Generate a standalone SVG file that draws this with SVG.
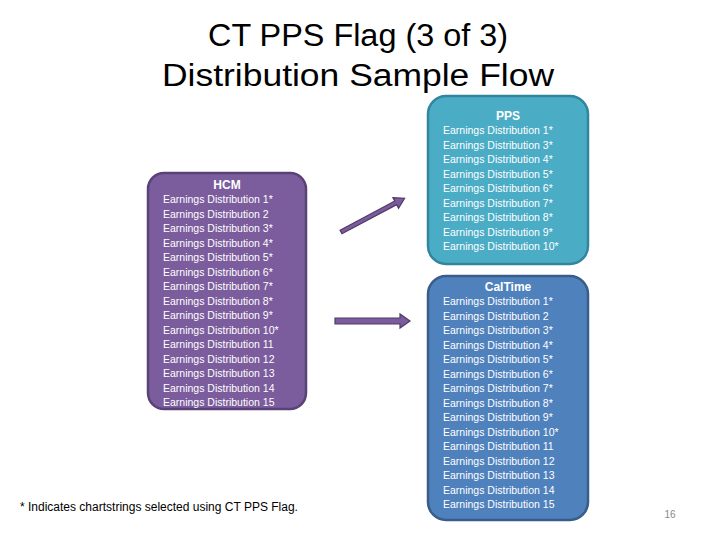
<svg xmlns="http://www.w3.org/2000/svg" width="720" height="540" viewBox="0 0 720 540">
<style>
.t{font-family:"Liberation Sans",Arial,sans-serif;fill:#fff;font-size:10.5px}
.h{font-family:"Liberation Sans",Arial,sans-serif;fill:#fff;font-size:12px;font-weight:bold;text-anchor:middle}
.ti{font-family:"Liberation Sans",Arial,sans-serif;font-size:31px;fill:#000;text-anchor:middle}
.arr{fill:#7b5c9c;stroke:#4f3a6a;stroke-width:1.2}
</style>
<rect width="720" height="540" fill="#fff"/>
<text class="ti" x="358" y="46" textLength="300" lengthAdjust="spacingAndGlyphs">CT PPS Flag (3 of 3)</text>
<text class="ti" x="358" y="86" textLength="392" lengthAdjust="spacingAndGlyphs">Distribution Sample Flow</text>
<g id="hcm">
<rect x="148" y="173" width="158" height="236" rx="16" fill="#7b5c9c" stroke="#5a4278" stroke-width="2.5"/>
<text class="h" x="227" y="189">HCM</text>
<g class="t">
<text x="163" y="203">Earnings Distribution 1*</text>
<text x="163" y="217.5">Earnings Distribution 2</text>
<text x="163" y="232">Earnings Distribution 3*</text>
<text x="163" y="246.5">Earnings Distribution 4*</text>
<text x="163" y="261">Earnings Distribution 5*</text>
<text x="163" y="275.5">Earnings Distribution 6*</text>
<text x="163" y="290">Earnings Distribution 7*</text>
<text x="163" y="304.5">Earnings Distribution 8*</text>
<text x="163" y="319">Earnings Distribution 9*</text>
<text x="163" y="333.5">Earnings Distribution 10*</text>
<text x="163" y="348">Earnings Distribution 11</text>
<text x="163" y="362.5">Earnings Distribution 12</text>
<text x="163" y="377">Earnings Distribution 13</text>
<text x="163" y="391.5">Earnings Distribution 14</text>
<text x="163" y="406">Earnings Distribution 15</text>
</g>
</g>
<g id="pps">
<rect x="428" y="96" width="160" height="168" rx="18" fill="#4bacc6" stroke="#31859c" stroke-width="2.5"/>
<text class="h" x="508" y="120">PPS</text>
<g class="t">
<text x="443" y="134">Earnings Distribution 1*</text>
<text x="443" y="148.5">Earnings Distribution 3*</text>
<text x="443" y="163">Earnings Distribution 4*</text>
<text x="443" y="177.5">Earnings Distribution 5*</text>
<text x="443" y="192">Earnings Distribution 6*</text>
<text x="443" y="206.5">Earnings Distribution 7*</text>
<text x="443" y="221">Earnings Distribution 8*</text>
<text x="443" y="235.5">Earnings Distribution 9*</text>
<text x="443" y="250">Earnings Distribution 10*</text>
</g>
</g>
<g id="caltime">
<rect x="428" y="276" width="160" height="244" rx="18" fill="#4f81bd" stroke="#385d8a" stroke-width="2.5"/>
<text class="h" x="508" y="291">CalTime</text>
<g class="t">
<text x="443" y="305">Earnings Distribution 1*</text>
<text x="443" y="319.5">Earnings Distribution 2</text>
<text x="443" y="334">Earnings Distribution 3*</text>
<text x="443" y="348.5">Earnings Distribution 4*</text>
<text x="443" y="363">Earnings Distribution 5*</text>
<text x="443" y="377.5">Earnings Distribution 6*</text>
<text x="443" y="392">Earnings Distribution 7*</text>
<text x="443" y="406.5">Earnings Distribution 8*</text>
<text x="443" y="421">Earnings Distribution 9*</text>
<text x="443" y="435.5">Earnings Distribution 10*</text>
<text x="443" y="450">Earnings Distribution 11</text>
<text x="443" y="464.5">Earnings Distribution 12</text>
<text x="443" y="479">Earnings Distribution 13</text>
<text x="443" y="493.5">Earnings Distribution 14</text>
<text x="443" y="508">Earnings Distribution 15</text>
</g>
</g>
<g id="connectors">
<polygon class="arr" transform="translate(341,232) rotate(-28)" points="0,-2 62,-2 62,-6 72,0 62,6 62,2 0,2"/>
<polygon class="arr" points="335,318 400,318 400,314 410,321 400,328 400,324 335,324"/>
</g>
<text x="20" y="511" font-family="'Liberation Sans',Arial,sans-serif" font-size="12" fill="#000">* Indicates chartstrings selected using CT PPS Flag.</text>
<text x="670" y="518" text-anchor="middle" font-family="'Liberation Sans',Arial,sans-serif" font-size="10" fill="#888">16</text>
</svg>
